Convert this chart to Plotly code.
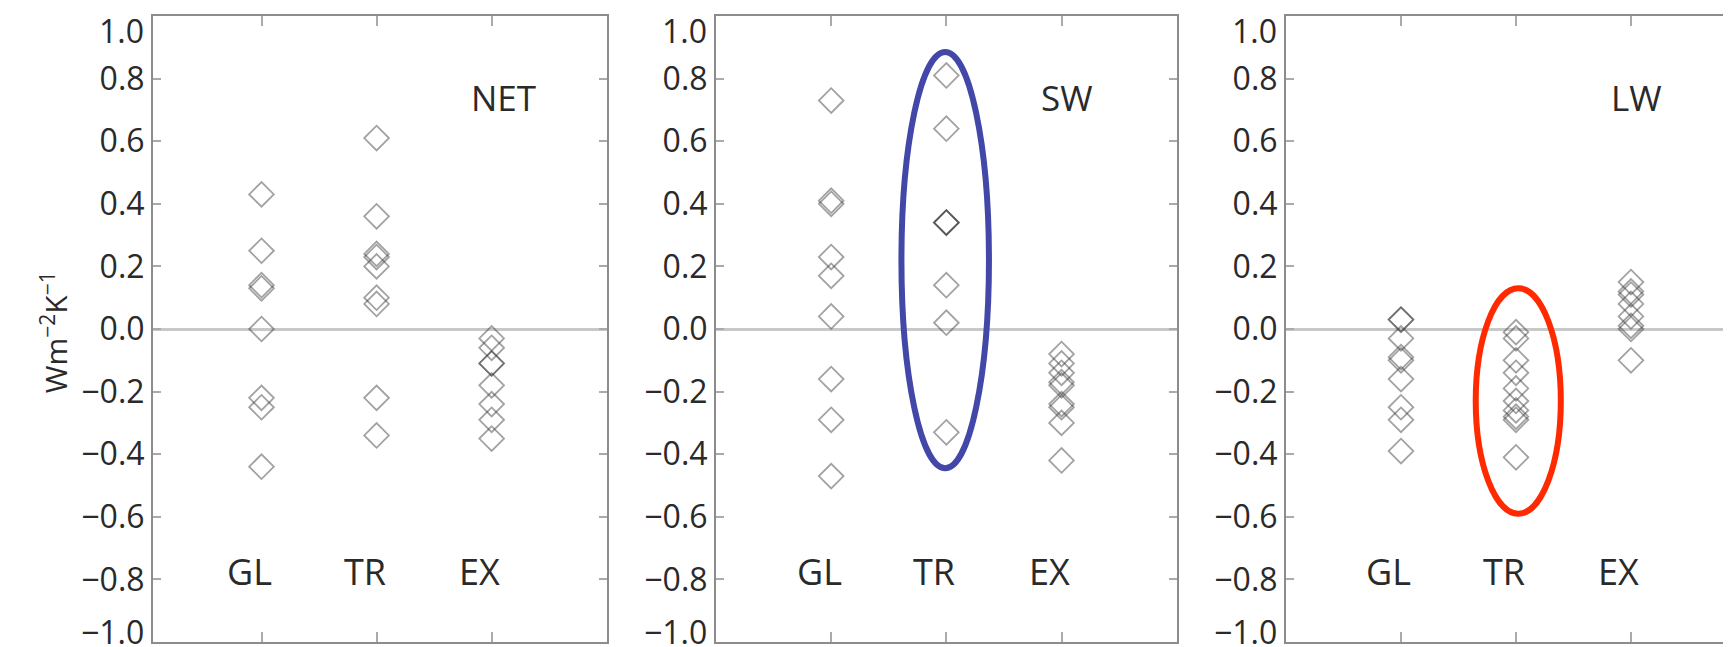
import plotly.graph_objects as go

categories = ["GL", "TR", "EX"]
cat_pos = [1, 2, 3]
panel_titles = ["NET", "SW", "LW"]
title_x = [3.1, 3.05, 3.05]
y_ticks = [-1.0, -0.8, -0.6, -0.4, -0.2, 0.0, 0.2, 0.4, 0.6, 0.8, 1.0]

net_gl = [0.43, 0.25, 0.14, 0.13, 0.0, -0.22, -0.25, -0.44]
net_tr = [0.61, 0.36, 0.24, 0.23, 0.20, 0.10, 0.08, -0.22, -0.34]
net_ex = [-0.03, -0.06, -0.11, -0.11, -0.18, -0.24, -0.29, -0.35]

sw_gl = [0.73, 0.41, 0.40, 0.23, 0.17, 0.04, -0.16, -0.29, -0.47]
sw_tr = [0.81, 0.64, 0.34, 0.34, 0.34, 0.14, 0.02, -0.33]
sw_ex = [-0.08, -0.11, -0.14, -0.17, -0.18, -0.24, -0.25, -0.30, -0.42]

lw_gl = [0.03, 0.03, -0.03, -0.09, -0.10, -0.16, -0.25, -0.29, -0.39]
lw_tr = [-0.01, -0.03, -0.10, -0.14, -0.19, -0.23, -0.26, -0.28, -0.29, -0.41]
lw_ex = [0.15, 0.12, 0.11, 0.08, 0.04, 0.01, 0.00, -0.10]

panels_data = [
    [net_gl, net_tr, net_ex],
    [sw_gl, sw_tr, sw_ex],
    [lw_gl, lw_tr, lw_ex],
]

# page body has an 8px margin; the figure is sized to compensate
W, H = 1723, 639
FONT = "Open Sans"
TXT = "#2a2a2a"
x_domains = [[145 / W, 598.7 / W], [708 / W, 1168.7 / W], [1278 / W, 1.0]]
x_ranges = [[0.057, 4.0], [0.0, 4.0], [0.0, 3.87]]
y_domain = [1 - 634 / H, 1 - 8 / H]

fig = go.Figure()

for i, series in enumerate(panels_data):
    sfx = "" if i == 0 else str(i + 1)
    for pos, vals in zip(cat_pos, series):
        fig.add_trace(go.Scatter(
            x=[pos] * len(vals), y=vals, mode="markers",
            xaxis="x" + sfx, yaxis="y" + sfx,
            marker=dict(symbol="diamond-open", size=19,
                        color="rgba(60,60,60,0.48)",
                        line=dict(width=1.8, color="rgba(60,60,60,0.48)")),
            showlegend=False, hoverinfo="y",
        ))

tick_text = ["" if abs(v) == 1.0 else f"{v:.1f}".replace("-", "\u2212") for v in y_ticks]

for i in range(3):
    sfx = "" if i == 0 else str(i + 1)
    fig.layout["xaxis" + sfx] = dict(
        domain=x_domains[i], range=x_ranges[i], anchor="y" + sfx,
        tickvals=cat_pos, showticklabels=False, ticks="inside", ticklen=10,
        tickwidth=1.5, tickcolor="#aaaaaa", showline=True, linecolor="#8c8c8c",
        linewidth=2, mirror="ticks", showgrid=False, zeroline=False,
    )
    fig.layout["yaxis" + sfx] = dict(
        domain=y_domain, range=[-1.0, 1.0], anchor="x" + sfx,
        tickvals=y_ticks, ticktext=tick_text, ticks="inside", ticklen=8,
        tickwidth=1.5, tickcolor="#aaaaaa", showline=True, linecolor="#8c8c8c",
        linewidth=2, mirror=("ticks" if i < 2 else False), showgrid=False,
        zeroline=True, zerolinecolor="#c8c8c8", zerolinewidth=2.5,
        tickfont=dict(family=FONT, size=32, color=TXT),
        ticklabelstandoff=0,
    )
    # end labels shifted inward as in the reference
    for yv, ytxt in [(0.955, "1.0"), (-0.965, "\u22121.0")]:
        fig.add_annotation(
            x=x_domains[i][0], xref="paper", y=yv, yref="y" + sfx,
            text=ytxt, showarrow=False, xanchor="right", yanchor="middle",
            xshift=-7, font=dict(family=FONT, size=32, color=TXT),
        )
    for pos, lab in zip(cat_pos, categories):
        fig.add_annotation(
            x=pos, y=-0.775, xref="x" + sfx, yref="y" + sfx, text=lab,
            showarrow=False, xshift=-12,
            font=dict(family=FONT, size=36, color=TXT),
        )
    fig.add_annotation(
        x=title_x[i], y=0.74, xref="x" + sfx, yref="y" + sfx, text=panel_titles[i],
        showarrow=False, font=dict(family=FONT, size=35, color=TXT),
    )

fig.add_annotation(
    x=23 / W, xref="paper", y=-0.01, yref="y",
    text="Wm<sup>\u22122</sup>K<sup>\u22121</sup>", textangle=-90,
    showarrow=False, font=dict(family=FONT, size=30, color=TXT),
)

fig.add_shape(type="circle", xref="x2", yref="y2", x0=1.61, x1=2.37,
              y0=-0.445, y1=0.885, line=dict(color="#4347a8", width=6))
fig.add_shape(type="circle", xref="x3", yref="y3", x0=1.65, x1=2.39,
              y0=-0.59, y1=0.13, line=dict(color="#ff2a00", width=6))

fig.update_layout(
    width=W, height=H, margin=dict(l=0, r=0, t=0, b=0),
    paper_bgcolor="white", plot_bgcolor="white", showlegend=False,
)

fig.write_html("out.html")
